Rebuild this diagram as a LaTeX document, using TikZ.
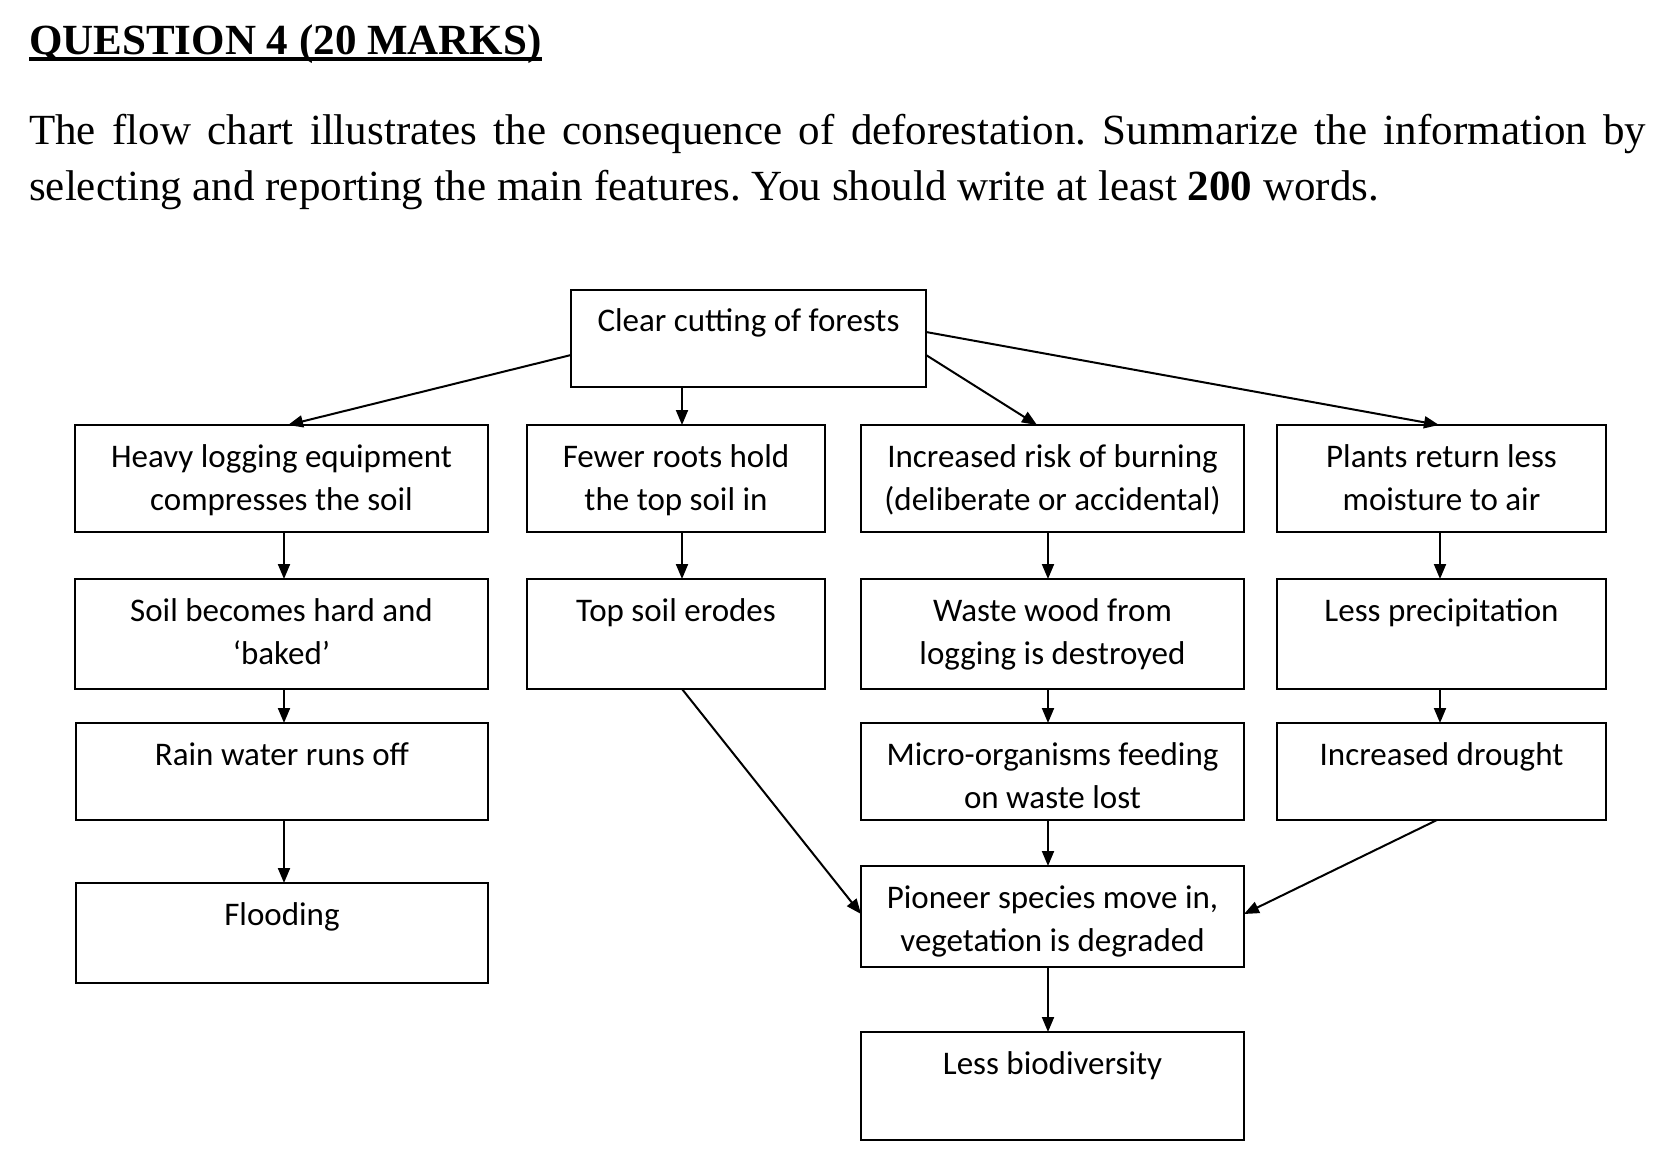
\documentclass[tikz,border=0pt]{standalone}
\usepackage{fontspec}
\setmainfont{Liberation Serif}
\newfontfamily\boxfont{Carlito}
\usetikzlibrary{arrows.meta}
\newcommand\bxt[3]{\parbox[c][#2pt][t]{#1pt}{\centering\boxfont\fontsize{33}{43}\selectfont\rule{0pt}{42pt}#3\par}}
\newcommand\myul[1]{\sbox0{#1}\rlap{\usebox0}\rule[-6pt]{\wd0}{4pt}}
\tikzset{
  bx/.style={draw, line width=2.4pt, inner sep=0pt, outer sep=0pt},
  arr/.style={line width=2pt, -{Triangle[length=15pt,width=12pt]}},
}
\frenchspacing
\begin{document}
\begin{tikzpicture}[x=1pt,y=-1pt]
\useasboundingbox[fill=white] (0,0) rectangle (1663,1158);
\node[anchor=base west, inner sep=0pt] (title) at (29,55) {\fontsize{43}{50}\selectfont\bfseries\myul{QUESTION 4 (20 MARKS)}};
\node[anchor=base west, inner sep=0pt, text width=1617pt, align=justify, font=\fontsize{43}{56}\selectfont] (para) at (29,145) {\frenchspacing The flow chart illustrates the consequence of deforestation. Summarize the information by\linebreak selecting and reporting the main features. You should write at least \textbf{200} words.};

\node[bx] (top) at (748.5,338.5) {\bxt{355}{97}{Clear cutting of forests}};

\node[bx] (A1) at (281.5,478.5) {\bxt{413}{107}{Heavy logging equipment\\compresses the soil}};
\node[bx] (B1) at (676,478.5) {\bxt{298}{107}{Fewer roots hold\\the top soil in}};
\node[bx] (C1) at (1052.5,478.5) {\bxt{383}{107}{Increased risk of burning\\(deliberate or accidental)}};
\node[bx] (D1) at (1441.5,478.5) {\bxt{329}{107}{Plants return less\\moisture to air}};

\node[bx] (A2) at (281.5,634) {\bxt{413}{110}{Soil becomes hard and\\‘baked’}};
\node[bx] (B2) at (676,634) {\bxt{298}{110}{Top soil erodes}};
\node[bx] (C2) at (1052.5,634) {\bxt{383}{110}{Waste wood from\\logging is destroyed}};
\node[bx] (D2) at (1441.5,634) {\bxt{329}{110}{Less precipitation}};

\node[bx] (A3) at (282,771.5) {\bxt{412}{97}{Rain water runs off}};
\node[bx] (C3) at (1052.5,771.5) {\bxt{383}{97}{Micro-organisms feeding\\on waste lost}};
\node[bx] (D3) at (1441.5,771.5) {\bxt{329}{97}{Increased drought}};

\node[bx] (A4) at (282,933) {\bxt{412}{100}{Flooding}};
\node[bx] (P) at (1052.5,916.5) {\bxt{383}{101}{Pioneer species move in,\\vegetation is degraded}};
\node[bx] (L) at (1052.5,1086) {\bxt{383}{108}{Less biodiversity}};

\draw[arr] ([yshift=-16.5pt]top.west) -- ([xshift=6.5pt]A1.north);
\draw[arr] ([xshift=6pt]B1.north |- top.south) -- ([xshift=6pt]B1.north);
\draw[arr] ([yshift=-16.5pt]top.east) -- ([xshift=-15.5pt]C1.north);
\draw[arr] ([yshift=6.5pt]top.east) -- ([xshift=-2.5pt]D1.north);

\draw[arr] ([xshift=2.5pt]A1.south) -- ([xshift=2.5pt]A2.north);
\draw[arr] ([xshift=2.5pt]A2.south) -- ([xshift=2pt]A3.north);
\draw[arr] ([xshift=2pt]A3.south) -- ([xshift=2pt]A4.north);

\draw[arr] ([xshift=6pt]B1.south) -- ([xshift=6pt]B2.north);
\draw[arr] ([xshift=6pt]B2.south) -- ([yshift=2.5pt]P.west);

\draw[arr] ([xshift=-4.5pt]C1.south) -- ([xshift=-4.5pt]C2.north);
\draw[arr] ([xshift=-4.5pt]C2.south) -- ([xshift=-4.5pt]C3.north);
\draw[arr] ([xshift=-4.5pt]C3.south) -- ([xshift=-4.5pt]P.north);
\draw[arr] ([xshift=-4.5pt]P.south) -- ([xshift=-4.5pt]L.north);

\draw[arr] ([xshift=-1.5pt]D1.south) -- ([xshift=-1.5pt]D2.north);
\draw[arr] ([xshift=-1.5pt]D2.south) -- ([xshift=-1.5pt]D3.north);
\draw[arr] ([xshift=-4.5pt]D3.south) -- ([yshift=2.5pt]P.east);
\end{tikzpicture}
\end{document}
